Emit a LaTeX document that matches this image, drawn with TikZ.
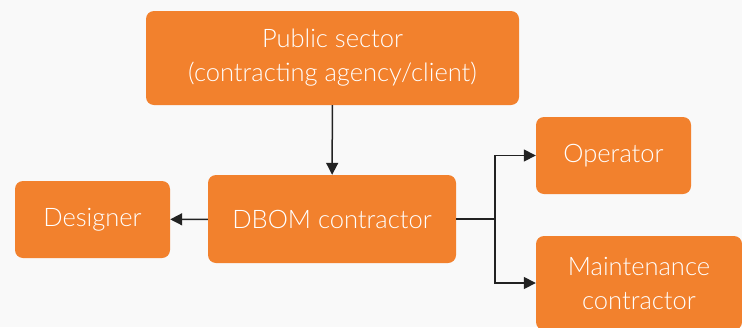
\documentclass[tikz,border=0pt]{standalone}
\usepackage{fontspec}
\setmainfont{Lato Light}
\usetikzlibrary{arrows.meta}
\definecolor{bg}{HTML}{F9F9F9}
\definecolor{org}{HTML}{F2812D}
\definecolor{ln}{HTML}{222222}
\begin{document}
\begin{tikzpicture}[x=1pt,y=-1pt,
 box/.style={fill=org, rounded corners=8pt, text=white, align=center, font=\fontsize{25.5}{34}\selectfont, inner sep=0pt},
 conn/.style={draw=ln, line width=1.5pt, -{Triangle[length=12pt,width=12pt]}}]
\useasboundingbox[fill=bg] (0,0) rectangle (742,327);
\node[box, minimum width=373pt, minimum height=94pt] (pub) at (332.5,58) {Public sector\\(contracting agency/client)};
\node[box, minimum width=248pt, minimum height=88pt] (dbom) at (332,219) {DBOM contractor};
\node[box, minimum width=155pt, minimum height=77pt] (des) at (92.5,219.5) {Designer};
\node[box, minimum width=155pt, minimum height=77pt] (op) at (613.5,155.5) {Operator};
\node[box, minimum width=206pt, minimum height=94pt] (mc) at (639,283) {Maintenance\\contractor};
\coordinate (br) at (495,219);
\draw[conn] (pub) -- (dbom);
\draw[conn] (dbom) -- (des);
\draw[conn] (dbom.east) -- (br) |- (op.west);
\draw[conn] (br) |- (mc.west);
\end{tikzpicture}
\end{document}
